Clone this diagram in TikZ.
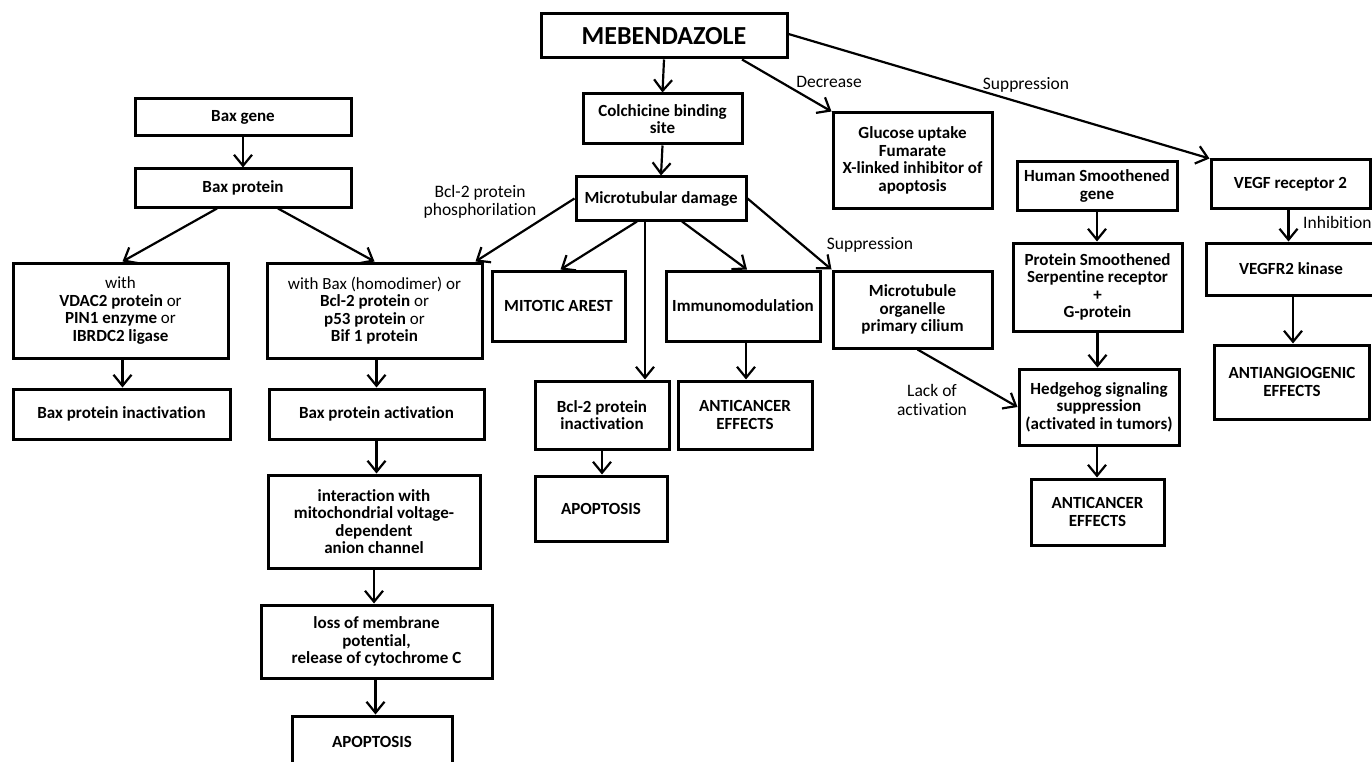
\documentclass[tikz,border=0pt]{standalone}
\usepackage{fontspec}
\setmainfont{Carlito}[Ligatures=NoCommon]
\usetikzlibrary{arrows.meta}
\begin{document}
\begin{tikzpicture}[x=1pt,y=-1pt,
 box/.style={draw=black, line width=3pt, fill=white, align=center, inner sep=2pt, font=\fontsize{17}{17.5}\selectfont\bfseries},
 arr/.style={line width=2.2pt, -{Straight Barb[length=11pt,width=18pt,line width=2.2pt]}},
 lbl/.style={font=\fontsize{17.5}{18.5}\selectfont, align=center, inner sep=0pt}]
\useasboundingbox (0,0) rectangle (1372,762);
\clip (0,0) rectangle (1372,762);
% top column
\node[box, minimum width=246pt, minimum height=44pt, font=\fontsize{26}{28}\selectfont\bfseries] (meb) at (664,36) {MEBENDAZOLE};
\node[box, minimum width=159pt, minimum height=50pt] (colch) at (662.5,119) {Colchicine binding\\site};
\node[box, minimum width=170pt, minimum height=43pt] (micro) at (661,198.5) {Microtubular damage};
\node[box, minimum width=159pt, minimum height=95pt] (gluc) at (912.5,160.5) {Glucose uptake\\Fumarate\\X-linked inhibitor of\\apoptosis};
% left column
\node[box, minimum width=216pt, minimum height=37pt] (baxgene) at (243,117.5) {Bax gene};
\node[box, minimum width=216pt, minimum height=38pt] (baxprot) at (243,188) {Bax protein};
\node[box, minimum width=215pt, minimum height=95pt] (vdac) at (120.5,310.5) {\mdseries with\\VDAC2 protein \mdseries or\\PIN1 enzyme \mdseries or\\IBRDC2 ligase};
\node[box, minimum width=215pt, minimum height=95pt] (homo) at (374.5,310.5) {\mdseries with Bax (homodimer) or\\Bcl-2 protein \mdseries or\\p53 protein \mdseries or\\Bif 1 protein};
\node[box, minimum width=217pt, minimum height=50pt] (inact) at (121.5,414) {Bax protein inactivation};
\node[box, minimum width=215pt, minimum height=50pt] (act) at (376.5,414) {Bax protein activation};
\node[box, minimum width=212pt, minimum height=93pt] (inter) at (374,521.5) {interaction with\\mitochondrial voltage-\\dependent\\anion channel};
\node[box, minimum width=231pt, minimum height=73pt] (loss) at (376.5,641.5) {loss of membrane\\potential,\\release of cytochrome C};
\node[box, minimum width=160pt, minimum height=52pt] (apop1) at (372,742) {APOPTOSIS};
% middle
\node[box, minimum width=133pt, minimum height=70pt] (mitotic) at (558.5,306) {MITOTIC AREST};
\node[box, minimum width=154pt, minimum height=70pt] (immuno) at (743,306) {Immunomodulation};
\node[box, minimum width=134pt, minimum height=68pt] (bcl) at (602,415) {Bcl-2 protein\\inactivation};
\node[box, minimum width=134pt, minimum height=68pt] (antic1) at (745,415) {ANTICANCER\\EFFECTS};
\node[box, minimum width=132pt, minimum height=65pt] (apop2) at (601,508.5) {APOPTOSIS};
\node[box, minimum width=159pt, minimum height=77pt] (cilium) at (912.5,309.5) {Microtubule\\organelle\\primary cilium};
% right
\node[box, minimum width=160pt, minimum height=48pt] (hsg) at (1097,186) {Human Smoothened\\gene};
\node[box, minimum width=169pt, minimum height=88pt] (psm) at (1097.5,287) {Protein Smoothened\\Serpentine receptor\\+\\G-protein};
\node[box, minimum width=160pt, minimum height=76pt] (hedge) at (1099,407) {Hedgehog signaling\\suppression\\(activated in tumors)};
\node[box, minimum width=133pt, minimum height=66pt] (antic2) at (1097.5,512) {ANTICANCER\\EFFECTS};
\node[box, minimum width=159pt, minimum height=48pt] (vegf) at (1290.5,184) {VEGF receptor 2};
\node[box, minimum width=170pt, minimum height=52pt] (vegfr) at (1291,269) {VEGFR2 kinase};
\node[box, minimum width=155pt, minimum height=74pt] (antiang) at (1292,382) {ANTIANGIOGENIC\\EFFECTS};
% labels
\node[lbl] (ldec) at (829,82) {Decrease};
\node[lbl] (lsup1) at (1026,85) {Suppression};
\node[lbl] (lbcl) at (480,202) {Bcl-2 protein\\phosphorilation};
\node[lbl] (lsup2) at (870,245) {Suppression};
\node[lbl] (llack) at (932,400) {Lack of\\activation};
\node[lbl, anchor=west] (linh) at (1303,222) {Inhibition};
% arrows
\coordinate (bx) at (645,0);
\draw[arr] (meb.south) -- (colch.north);
\draw[arr] ([xshift=78pt]meb.south) -- (gluc.north west);
\draw[arr] ([yshift=2pt]meb.east) -- (vegf.north west);
\draw[arr] (colch.south) -- (micro.north);
\draw[arr] (micro.west) -- ([xshift=-8pt]homo.north east);
\draw[arr] ([xshift=-24pt]micro.south) -- ([xshift=2pt]mitotic.north);
\draw[arr] (micro.south -| bx) -- (bcl.north -| bx);
\draw[arr] ([xshift=21pt]micro.south) -- ([xshift=4pt]immuno.north);
\draw[arr] (micro.east) -- (cilium.north west);
\draw[arr] ([xshift=5pt]cilium.south) -- (hedge.west);
\draw[arr] ([xshift=3pt]immuno.south) -- ([xshift=3pt]immuno.south |- antic1.north);
\draw[arr] (bcl.south) -- (bcl.south |- apop2.north);
\draw[arr] (baxgene) -- (baxprot);
\draw[arr] ([xshift=-26pt]baxprot.south) -- ([xshift=2pt]vdac.north);
\draw[arr] ([xshift=35pt]baxprot.south) -- (homo.north);
\draw[arr] ([xshift=2pt]vdac.south) -- ([xshift=2pt]vdac.south |- inact.north);
\draw[arr] ([xshift=2pt]homo.south) -- ([xshift=2pt]homo.south |- act.north);
\draw[arr] (act.south) -- (act.south |- inter.north);
\draw[arr] (inter.south) -- (inter.south |- loss.north);
\draw[arr] ([xshift=-1pt]loss.south) -- ([xshift=-1pt]loss.south |- apop1.north);
\draw[arr] (hsg.south) -- (hsg.south |- psm.north);
\draw[arr] (psm.south) -- (psm.south |- hedge.north);
\draw[arr] ([xshift=-2pt]hedge.south) -- ([xshift=-2pt]hedge.south |- antic2.north);
\draw[arr] ([xshift=-2pt]vegf.south) -- ([xshift=-2pt]vegf.south |- vegfr.north);
\draw[arr] ([xshift=2pt]vegfr.south) -- ([xshift=2pt]vegfr.south |- antiang.north);
\end{tikzpicture}
\end{document}
